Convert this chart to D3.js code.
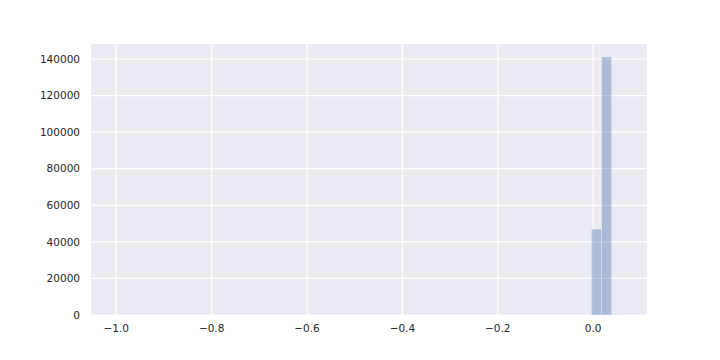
<!DOCTYPE html>
<html>
<head>
<meta charset="utf-8">
<style>
body { margin: 0; background: #fff; }
text { font-family: "DejaVu Sans", sans-serif; font-size: 10.5px; fill: #262626; }
</style>
</head>
<body>
<svg width="720" height="360"></svg>
<script src="https://d3js.org/d3.v7.min.js"></script>
<script>

// histogram, 50 bins between -1 and ~0.06
var binEdges = d3.range(51).map(function(k) { return -1 + k * (1.06 / 50); });
var binCounts = d3.range(50).map(function() { return 0; });
binCounts[47] = 47000;
binCounts[48] = 141150;
binCounts[49] = 350;

var xTicks = [-1.0, -0.8, -0.6, -0.4, -0.2, 0.0];
var yTicks = [0, 20000, 40000, 60000, 80000, 100000, 120000, 140000];

var svg = d3.select("svg"),
    margin = {top: 44, right: 73, bottom: 45, left: 91},
    width = 720 - margin.left - margin.right,
    height = 360 - margin.top - margin.bottom;

var lo = -1, hi = 1.06 - 1, span = hi - lo;
var x = d3.scaleLinear().domain([lo - 0.05 * span, hi + 0.05 * span]).range([0, width]);
var y = d3.scaleLinear().domain([0, d3.max(binCounts) * 1.05]).range([height, 0]);

var g = svg.append("g").attr("transform", "translate(" + margin.left + "," + margin.top + ")");

g.append("rect").attr("width", width).attr("height", height).attr("fill", "#eaeaf2");

g.selectAll(".gx").data(xTicks).enter().append("line")
    .attr("x1", function(d) { return x(d); }).attr("x2", function(d) { return x(d); })
    .attr("y1", 0).attr("y2", height)
    .attr("stroke", "#fff").attr("stroke-width", 1.2);

g.selectAll(".gy").data(yTicks).enter().append("line")
    .attr("y1", function(d) { return y(d); }).attr("y2", function(d) { return y(d); })
    .attr("x1", 0).attr("x2", width)
    .attr("stroke", "#fff").attr("stroke-width", 1.2);

var bins = binCounts.map(function(c, i) { return {x0: binEdges[i], x1: binEdges[i + 1], n: c}; })
    .filter(function(d) { return d.n > 0; });

g.selectAll(".bar").data(bins).enter().append("rect")
    .attr("x", function(d) { return x(d.x0); })
    .attr("width", function(d) { return x(d.x1) - x(d.x0); })
    .attr("y", function(d) { return y(d.n); })
    .attr("height", function(d) { return height - y(d.n); })
    .attr("fill", "#4c72b0").attr("fill-opacity", 0.4)
    .attr("stroke", "#fff").attr("stroke-opacity", 0.4).attr("stroke-width", 0.8);

var fmt = function(d) { return d3.format(".1f")(d).replace("-", "\u2212"); };

g.selectAll(".xl").data(xTicks).enter().append("text")
    .attr("x", function(d) { return x(d); })
    .attr("y", height + 17)
    .attr("text-anchor", "middle")
    .text(fmt);

g.selectAll(".yl").data(yTicks).enter().append("text")
    .attr("x", -11)
    .attr("y", function(d) { return y(d); })
    .attr("dy", "0.35em")
    .attr("text-anchor", "end")
    .text(function(d) { return d; });

</script>
</body>
</html>
